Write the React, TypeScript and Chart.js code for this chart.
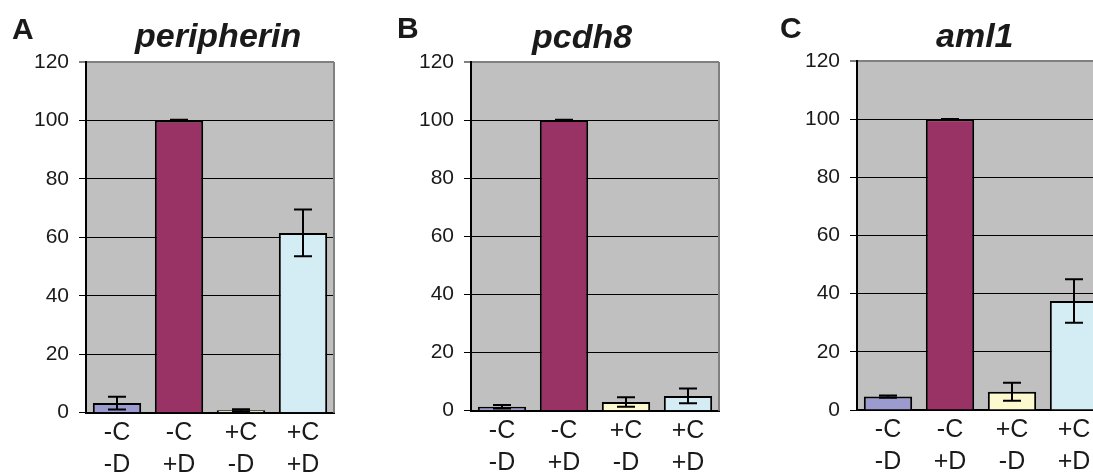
import React, { useEffect, useRef } from "react";
import { Chart, registerables } from "chart.js";

Chart.register(...registerables);

const categories: string[][] = [["-C", "-D"], ["-C", "+D"], ["+C", "-D"], ["+C", "+D"]];
const barColors = ["#9B9BD0", "#993366", "#FDF9CF", "#D4ECF4"];
const yTicksMax = 120;
const yTickStep = 20;

const panelLetters = ["A", "B", "C"];
const geneTitles = ["peripherin", "pcdh8", "aml1"];

const periValues = [3.3, 100, 0.8, 61.5];
const periErrors = [2.2, 0.2, 0.4, 8.0];
const pcdhValues = [1.4, 100, 3.0, 5.1];
const pcdhErrors = [0.6, 0.1, 1.6, 2.5];
const amlValues = [4.6, 100, 6.3, 37.5];
const amlErrors = [0.4, 0.1, 3.1, 7.5];

type Panel = {
  letter: string;
  title: string;
  values: number[];
  errors: number[];
  left: number;
  top: number;
  bottom: number;
  letterX: number;
  letterY: number;
  titleX: number;
  titleY: number;
};

const CANVAS_W = 342;
const CANVAS_H = 472;
const Y_AXIS_W = 86;
const PLOT_W = 248;

const panels: Panel[] = [
  { letter: panelLetters[0], title: geneTitles[0], values: periValues, errors: periErrors, left: 0, top: 62, bottom: 412.7, letterX: 12, letterY: 39, titleX: 135, titleY: 47 },
  { letter: panelLetters[1], title: geneTitles[1], values: pcdhValues, errors: pcdhErrors, left: 385, top: 62, bottom: 410.7, letterX: 397, letterY: 38, titleX: 532, titleY: 48 },
  { letter: panelLetters[2], title: geneTitles[2], values: amlValues, errors: amlErrors, left: 771, top: 61, bottom: 410, letterX: 780, letterY: 38, titleX: 936, titleY: 47 },
];

const FONT = '"Liberation Sans", Arial, sans-serif';

function PanelChart({ p }: { p: Panel }) {
  const ref = useRef<HTMLCanvasElement | null>(null);
  useEffect(() => {
    if (!ref.current) return;
    const bgPlugin = {
      id: "plotBg",
      beforeDraw(chart: any) {
        const { ctx, chartArea } = chart;
        ctx.save();
        ctx.fillStyle = "#C0C0C0";
        ctx.fillRect(chartArea.left, chartArea.top, chartArea.right - chartArea.left, chartArea.bottom - chartArea.top);
        ctx.restore();
      },
      afterDraw(chart: any) {
        const { ctx, chartArea } = chart;
        ctx.save();
        ctx.strokeStyle = "#808080";
        ctx.lineWidth = 2;
        ctx.beginPath();
        ctx.moveTo(chartArea.right, chartArea.top);
        ctx.lineTo(chartArea.right, chartArea.bottom);
        ctx.stroke();
        ctx.fillStyle = "#1a1a1a";
        ctx.textBaseline = "alphabetic";
        ctx.textAlign = "left";
        ctx.font = `bold 30px ${FONT}`;
        ctx.fillText(p.letter, p.letterX - p.left, p.letterY);
        ctx.font = `italic bold 34px ${FONT}`;
        ctx.fillText(p.title, p.titleX - p.left, p.titleY);
        ctx.restore();
      },
    };
    const errPlugin = {
      id: "errBars",
      afterDatasetsDraw(chart: any) {
        const { ctx } = chart;
        const meta = chart.getDatasetMeta(0);
        const ys = chart.scales.y;
        ctx.save();
        ctx.strokeStyle = "#000";
        ctx.lineWidth = 2;
        meta.data.forEach((bar: any, i: number) => {
          const v = p.values[i];
          const e = p.errors[i];
          const yHi = ys.getPixelForValue(v + e);
          const yLo = ys.getPixelForValue(Math.max(0, v - e));
          const x = bar.x;
          ctx.beginPath();
          ctx.moveTo(x, yHi);
          ctx.lineTo(x, yLo);
          ctx.moveTo(x - 9, yHi);
          ctx.lineTo(x + 9, yHi);
          ctx.moveTo(x - 9, yLo);
          ctx.lineTo(x + 9, yLo);
          ctx.stroke();
        });
        ctx.restore();
      },
    };
    const xHeight = CANVAS_H - p.bottom;
    const chart = new Chart(ref.current, {
      type: "bar",
      data: {
        labels: categories,
        datasets: [
          {
            data: p.values,
            backgroundColor: barColors,
            borderColor: "#000",
            borderWidth: 2,
            categoryPercentage: 1,
            barPercentage: 0.78,
          },
        ],
      },
      options: {
        animation: false,
        responsive: false,
        devicePixelRatio: 1,
        layout: { padding: { left: 0, top: p.top, right: CANVAS_W - Y_AXIS_W - PLOT_W, bottom: 0 } },
        plugins: { legend: { display: false }, tooltip: { enabled: false }, title: { display: false } },
        scales: {
          x: {
            grid: { display: false, drawTicks: false },
            border: { display: true, color: "#000", width: 2 },
            ticks: { color: "#1a1a1a", font: { family: FONT, size: 25, lineHeight: 1.28 }, padding: 4, maxRotation: 0, autoSkip: false },
            afterFit(scale: any) {
              scale.height = xHeight;
            },
          },
          y: {
            min: 0,
            max: yTicksMax,
            ticks: { stepSize: yTickStep, color: "#1a1a1a", font: { family: FONT, size: 21 }, padding: 10 },
            grid: {
              color: (c: any) => (c.tick && c.tick.value === yTicksMax ? "#808080" : "#000"),
              lineWidth: (c: any) => (c.tick && c.tick.value === yTicksMax ? 2 : 1),
              tickColor: "#000",
              tickLength: 7,
              tickWidth: 1,
              drawTicks: true,
            },
            border: { display: true, color: "#000", width: 2 },
            afterFit(scale: any) {
              scale.width = Y_AXIS_W;
            },
          },
        },
      },
      plugins: [bgPlugin, errPlugin],
    });
    return () => chart.destroy();
  }, [p]);
  return (
    <canvas
      ref={ref}
      width={CANVAS_W}
      height={CANVAS_H}
      style={{ position: "absolute", left: p.left, top: 0, width: CANVAS_W, height: CANVAS_H }}
    />
  );
}

export default function App() {
  return (
    <div style={{ position: "fixed", left: 0, top: 0, width: 1093, height: 472, overflow: "hidden", background: "#fff" }}>
      {panels.map((p) => (
        <PanelChart key={p.letter} p={p} />
      ))}
    </div>
  );
}
